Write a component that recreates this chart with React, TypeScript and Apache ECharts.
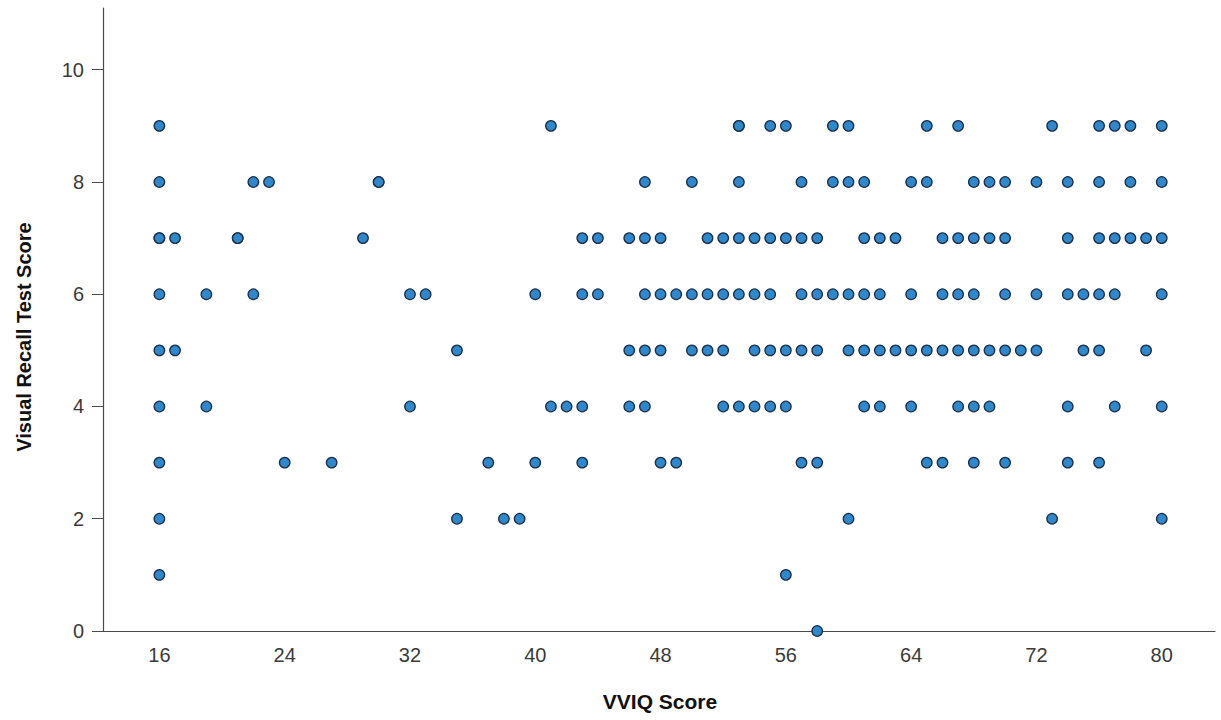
import React, { useEffect, useRef } from "react";
import * as echarts from "echarts";

// VVIQ scores of the points at each Visual Recall Test Score
const recall9 = [16, 41, 53, 53, 55, 56, 59, 60, 65, 67, 73, 76, 77, 78, 80];
const recall8 = [16, 22, 23, 30, 30, 47, 50, 53, 57, 59, 60, 61, 64, 65, 68, 69, 70, 72, 74, 76, 78, 80];
const recall7 = [16, 16, 17, 21, 21, 29, 43, 44, 46, 47, 48, 51, 52, 53, 54, 55, 56, 57, 58, 61, 62, 63, 66, 67, 68, 69, 70, 74, 76, 77, 78, 79, 80];
const recall6 = [16, 19, 22, 32, 33, 40, 43, 44, 47, 48, 49, 50, 51, 52, 53, 54, 55, 57, 58, 59, 60, 61, 62, 64, 66, 67, 68, 70, 72, 74, 75, 76, 77, 80];
const recall5 = [16, 17, 35, 46, 47, 48, 50, 51, 52, 54, 55, 56, 57, 58, 60, 61, 62, 63, 64, 65, 66, 67, 68, 69, 70, 71, 72, 75, 76, 79];
const recall4 = [16, 19, 32, 41, 42, 43, 46, 47, 52, 53, 54, 55, 56, 61, 62, 64, 67, 68, 69, 74, 77, 80];
const recall3 = [16, 24, 27, 37, 40, 43, 48, 49, 57, 58, 65, 66, 68, 70, 74, 76];
const recall2 = [16, 35, 38, 39, 60, 73, 80];
const recall1 = [16, 56];
const recall0 = [58];

const xTicks = [16, 24, 32, 40, 48, 56, 64, 72, 80];
const yTicks = [0, 2, 4, 6, 8, 10];
const xTitle = "VVIQ Score";
const yTitle = "Visual Recall Test Score";

const rows: [number, number[]][] = [
  [9, recall9], [8, recall8], [7, recall7], [6, recall6], [5, recall5],
  [4, recall4], [3, recall3], [2, recall2], [1, recall1], [0, recall0],
];

export default function App() {
  const ref = useRef<HTMLDivElement>(null);
  useEffect(() => {
    if (!ref.current) return;
    const chart = echarts.init(ref.current, null, { renderer: "svg" });
    const data = rows.flatMap(([y, xs]) => xs.map((x) => [x, y]));
    const font = "'Liberation Sans', Arial, sans-serif";
    chart.setOption({
      animation: false,
      backgroundColor: "#ffffff",
      grid: { left: 103, right: 6, top: 8, bottom: 89, containLabel: false },
      xAxis: {
        type: "value",
        min: 12.4,
        max: 83.4,
        splitLine: { show: false },
        axisLine: { show: true, lineStyle: { color: "#4a4a4a", width: 1.2 } },
        axisTick: { show: false },
        axisLabel: {
          customValues: xTicks,
          margin: 14,
          fontSize: 20,
          color: "#3a3a3a",
          fontFamily: font,
        },
      },
      yAxis: {
        type: "value",
        min: 0,
        max: 11.1,
        splitLine: { show: false },
        axisLine: { show: true, lineStyle: { color: "#4a4a4a", width: 1.2 } },
        axisTick: { show: true, customValues: yTicks, length: 11, lineStyle: { color: "#4a4a4a" } },
        axisLabel: {
          customValues: yTicks,
          margin: 19,
          fontSize: 20,
          color: "#3a3a3a",
          fontFamily: font,
        },
      },
      graphic: [
        {
          type: "text",
          x: 660,
          y: 701,
          style: {
            text: xTitle,
            fontSize: 21,
            fontWeight: "bold",
            fontFamily: font,
            fill: "#111",
            align: "center",
            verticalAlign: "middle",
          },
        },
        {
          type: "text",
          x: 24,
          y: 337,
          rotation: Math.PI / 2,
          style: {
            text: yTitle,
            fontSize: 20,
            fontWeight: "bold",
            fontFamily: font,
            fill: "#111",
            align: "center",
            verticalAlign: "middle",
          },
        },
      ],
      series: [
        {
          type: "scatter",
          data,
          symbol: "circle",
          symbolSize: 10.5,
          clip: false,
          itemStyle: {
            color: "#3088ca",
            borderColor: "#1b2f4a",
            borderWidth: 1.3,
            opacity: 1,
          },
        },
      ],
    });
    return () => chart.dispose();
  }, []);
  return (
    <div
      ref={ref}
      style={{ position: "fixed", left: 0, top: 0, width: 1221, height: 720, background: "#fff" }}
    />
  );
}
